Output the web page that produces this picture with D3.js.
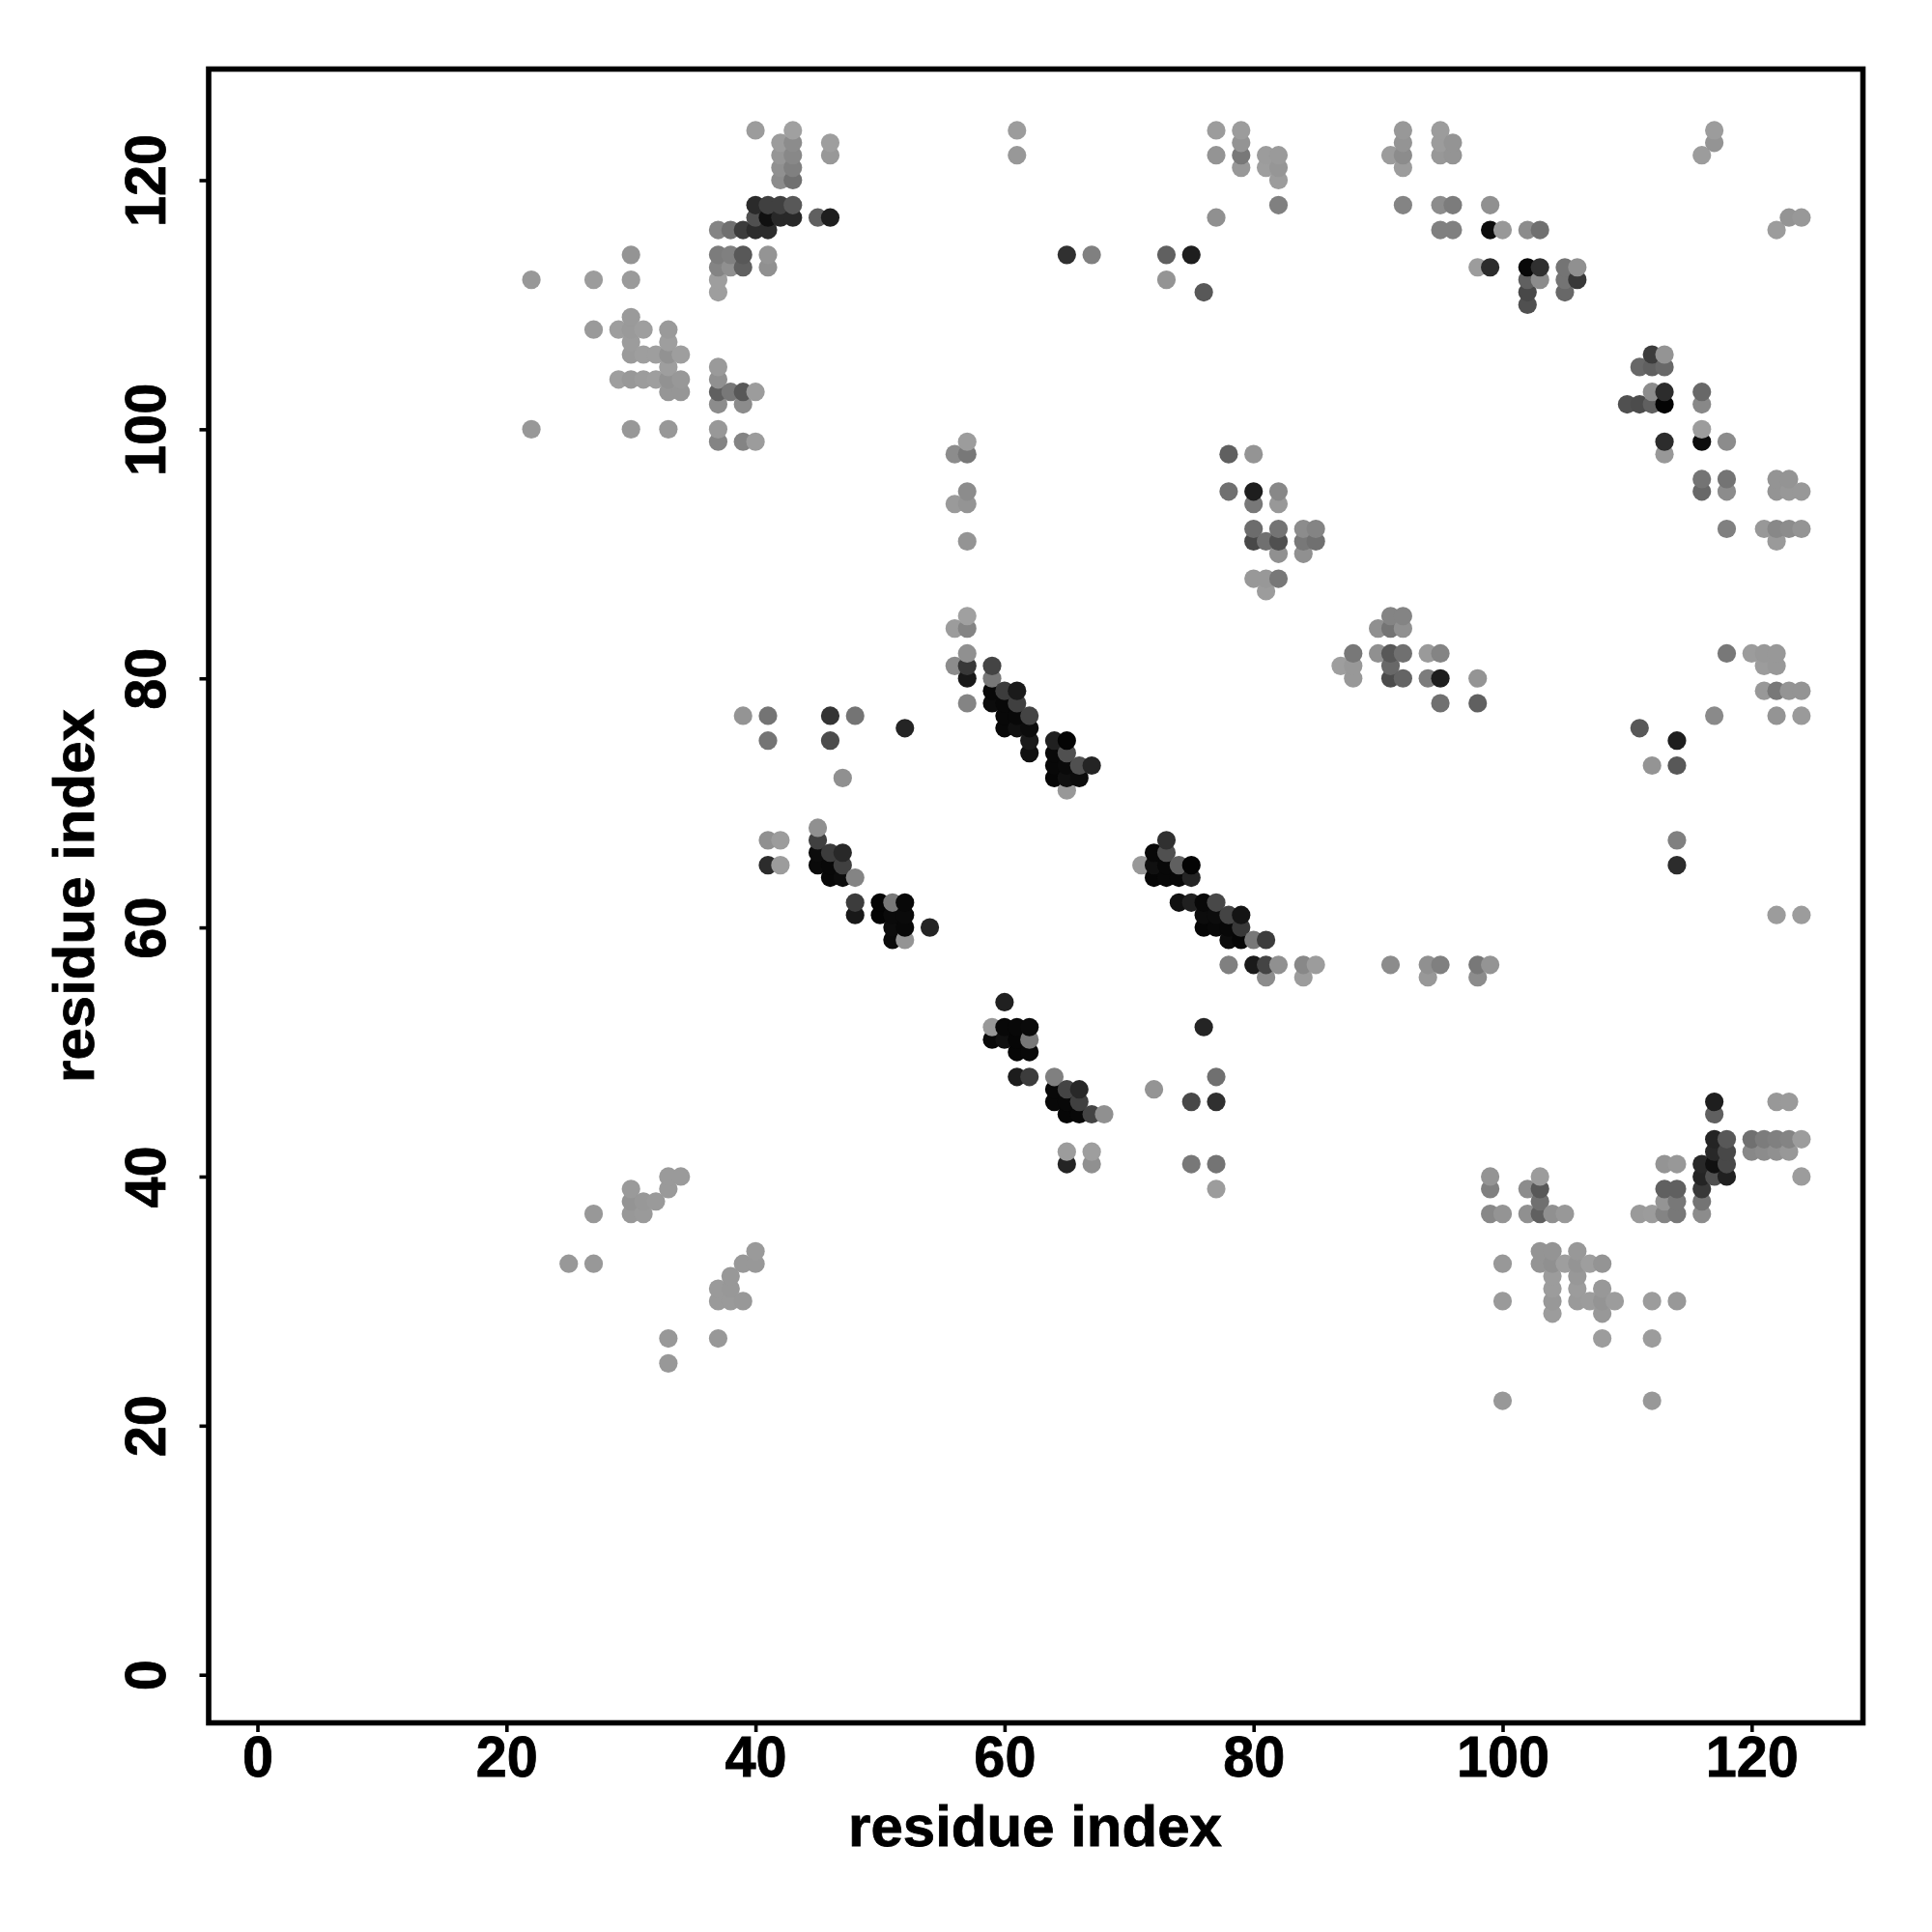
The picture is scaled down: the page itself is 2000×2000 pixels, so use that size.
<!DOCTYPE html>
<html>
<head>
<meta charset="utf-8">
<script src="https://cdn.jsdelivr.net/npm/d3@7"></script>
<style>html,body{margin:0;padding:0;background:#fff}svg{display:block}</style>
</head>
<body>
<div id="chart"></div>
<script>
// Each contact: [residue i, residue j, grey level 0-255]
const topLeftContacts = [
[40,124,0x9c],[43,124,0xa0],[42,123,0x9c],[43,123,0x8c],[46,123,0x9e],[42,122,0x96],[43,122,0x88],[46,122,0x98],
[42,121,0x90],[43,121,0x80],[42,120,0x8c],[43,120,0x70],[40,118,0x2a],[41,118,0x40],[42,118,0x40],[43,118,0x58],
[40,117,0x50],[41,117,0x10],[42,117,0x28],[43,117,0x28],[45,117,0x60],[46,117,0x1e],
[37,116,0x84],[38,116,0x70],[39,116,0x3c],[40,116,0x2c],[41,116,0x2c],
[30,114,0x94],[37,114,0x7c],[38,114,0x80],[39,114,0x58],[41,114,0x94],
[37,113,0x84],[38,113,0x90],[39,113,0x60],[41,113,0x90],
[22,112,0x98],[27,112,0x9c],[30,112,0x9a],[37,112,0x9e],[37,111,0x9e],[30,109,0x9a],
[27,108,0x9a],[29,108,0x9e],[30,108,0x9a],[31,108,0x9e],[33,108,0x9a],[30,107,0x9c],[33,107,0x9e],
[30,106,0x9a],[31,106,0x9e],[32,106,0x9e],[33,106,0x92],[34,106,0x9e],[33,105,0x9e],[37,105,0x9a],
[29,104,0x9e],[30,104,0x98],[31,104,0x9c],[32,104,0x9e],[33,104,0x92],[34,104,0x98],[37,104,0x90],
[33,103,0x96],[34,103,0x96],[37,103,0x60],[38,103,0x78],[39,103,0x58],[40,103,0x9c],
[37,102,0x8c],[39,102,0x8c],[22,100,0x98],[30,100,0x98],[33,100,0x98],[37,100,0x98],
[37,99,0x84],[39,99,0x84],[40,99,0x9c]
];
const topMiddleContacts = [
[61,124,0x9c],[61,122,0x98],[77,124,0x9c],[79,124,0x9c],[79,123,0x94],[79,122,0x78],[79,121,0x98],[77,122,0x94],
[81,122,0x9c],[82,122,0x9a],[81,121,0x9e],[82,121,0x96],[82,120,0x9c],[82,118,0x80],[77,117,0x90],
[65,114,0x30],[67,114,0x80],[73,114,0x60],[75,114,0x1e],[73,112,0x94],[76,111,0x58]
];
const topRightContacts = [
[92,124,0x98],[95,124,0x9c],[117,124,0x9c],[92,123,0x94],[95,123,0x9c],[96,123,0x94],[117,123,0x94],
[91,122,0x9c],[92,122,0x8c],[95,122,0x98],[96,122,0x94],[116,122,0x9c],[92,121,0x9c],
[92,118,0x84],[95,118,0x8c],[96,118,0x7c],[99,118,0x90],[123,117,0x94],[124,117,0x98],
[95,116,0x80],[96,116,0x80],[99,116,0x0c],[100,116,0x98],[102,116,0x8c],[103,116,0x70],[122,116,0x9c],
[98,113,0x9c],[99,113,0x2c],[102,113,0x08],[103,113,0x30],[105,113,0x74],[106,113,0x90],
[102,112,0x60],[103,112,0x8c],[105,112,0x74],[106,112,0x38],[102,111,0x48],[105,111,0x68],[102,110,0x50],
[112,106,0x3c],[113,106,0x94],[111,105,0x68],[112,105,0x60],[113,105,0x68],
[112,103,0x8c],[113,103,0x2c],[116,103,0x68],[110,102,0x50],[111,102,0x4c],[112,102,0x60],[113,102,0x04],[116,102,0x88],
[116,100,0x9c],[113,99,0x2c],[116,99,0x0c],[118,99,0x8c],[113,98,0x98],
[116,96,0x74],[118,96,0x74],[122,96,0x94],[123,96,0x94],[116,95,0x68],[118,95,0x8c],[122,95,0x94],[123,95,0x98],[124,95,0x98],
[118,92,0x80],[121,92,0x98],[122,92,0x88],[123,92,0x8c],[124,92,0x94],[122,91,0x9a]
];
const centreUpperContacts = [
[57,99,0x9c],[56,98,0x8c],[57,98,0x78],[57,95,0x8c],[56,94,0x9a],[57,94,0x94],[57,91,0x94],
[57,85,0xa0],[56,84,0x9c],[57,84,0x84],[57,82,0x90],[56,81,0x8c],[57,81,0x38],[57,80,0x18],[57,78,0x84],
[59,81,0x44],[59,80,0x78],[59,79,0x08],[59,78,0x0c],[60,79,0x3c],[61,79,0x1a],[60,78,0x08],[61,78,0x40],
[60,77,0x08],[61,77,0x08],[62,77,0x44],[60,76,0x08],[61,76,0x10],[62,76,0x0c],[62,75,0x1a],[62,74,0x10],
[64,75,0x20],[65,75,0x04],[64,74,0x08],[65,74,0x50],[64,73,0x08],[65,73,0x0a],[66,73,0x50],[67,73,0x24],
[64,72,0x06],[65,72,0x10],[66,72,0x0c],[65,71,0x98],
[78,98,0x60],[80,98,0x94],[78,95,0x70],[80,95,0x1e],[82,95,0x88],[80,94,0x78],[82,94,0x98],
[80,92,0x6c],[82,92,0x74],[84,92,0x8c],[85,92,0x84],[80,91,0x48],[81,91,0x70],[82,91,0x50],[84,91,0x78],[85,91,0x70],
[82,90,0x90],[84,90,0x90],[80,88,0x98],[81,88,0x98],[82,88,0x78],[81,87,0x9c],
[88,82,0x78],[87,81,0x9e],[88,81,0x98],[88,80,0x98]
];
const midRightContacts = [
[90,84,0x90],[91,84,0x74],[92,84,0x90],[91,85,0x84],[92,85,0x84],
[90,82,0x90],[91,82,0x58],[92,82,0x70],[94,82,0x9a],[95,82,0x84],[91,81,0x68],
[91,80,0x4c],[92,80,0x64],[94,80,0x7c],[95,80,0x1e],[98,80,0x94],[95,78,0x70],[98,78,0x60],
[118,82,0x78],[120,82,0x9c],[121,82,0x98],[122,82,0x98],[121,81,0x9c],[122,81,0x98],
[121,79,0x98],[122,79,0x78],[123,79,0x94],[124,79,0x94],[117,77,0x8a],[122,77,0x94],[124,77,0x9a],
[111,76,0x58],[114,75,0x1e],[112,73,0x94],[114,73,0x58],[114,67,0x80],[114,65,0x2c],[122,61,0x9c],[124,61,0x9c],
[91,57,0x8c],[94,57,0x90],[95,57,0x80],[98,57,0x78],[99,57,0x94],[94,56,0x98],[98,56,0x8c]
];
const midLeftContacts = [
[39,77,0x94],[41,77,0x74],[46,77,0x34],[48,77,0x74],[52,76,0x24],[41,75,0x74],[46,75,0x4c],[47,72,0x90],
[45,68,0x90],[42,67,0x9c],[41,67,0x90],[45,67,0x40],[45,66,0x0c],[46,66,0x3c],[47,66,0x28],
[41,65,0x2c],[42,65,0x9c],[45,65,0x0a],[46,65,0x08],[47,65,0x40],[46,64,0x08],[47,64,0x0c],[48,64,0x84],
[48,62,0x3c],[50,62,0x04],[51,62,0x78],[52,62,0x08],[48,61,0x18],[50,61,0x04],[51,61,0x0a],[52,61,0x0a],
[51,60,0x0c],[52,60,0x08],[54,60,0x24],[51,59,0x0a],[52,59,0x94]
];
const centreDiagonalContacts = [
[73,67,0x30],[72,66,0x08],[73,66,0x50],[71,65,0x98],[72,65,0x10],[73,65,0x08],[74,65,0x60],[75,65,0x04],
[72,64,0x06],[73,64,0x08],[74,64,0x08],[75,64,0x24],[74,62,0x10],[75,62,0x20],[76,62,0x08],[77,62,0x48],
[76,61,0x0c],[77,61,0x0c],[78,61,0x44],[79,61,0x14],[76,60,0x06],[77,60,0x08],[78,60,0x08],[79,60,0x38],
[78,59,0x0c],[79,59,0x06],[80,59,0x78],[81,59,0x3c],[78,57,0x80],[80,57,0x1a],[81,57,0x44],[82,57,0x90],
[84,57,0x88],[85,57,0x9c],[81,56,0x8c],[84,56,0x9c]
];
const centreLowerContacts = [
[60,54,0x20],[59,52,0x98],[60,52,0x08],[61,52,0x08],[62,52,0x0a],[76,52,0x24],
[59,51,0x08],[60,51,0x10],[61,51,0x06],[62,51,0x78],[61,50,0x06],[62,50,0x08],
[61,48,0x1c],[62,48,0x3c],[64,48,0x80],[77,48,0x70],[64,47,0x08],[65,47,0x44],[66,47,0x28],[72,47,0x94],
[64,46,0x08],[65,46,0x08],[66,46,0x40],[75,46,0x48],[77,46,0x30],[65,45,0x06],[66,45,0x08],[67,45,0x44],[68,45,0x90],
[65,42,0x9c],[67,42,0x9e],[65,41,0x24],[67,41,0x90],[75,41,0x78],[77,41,0x74],[77,39,0x9c]
];
const bottomLeftContacts = [
[25,33,0x98],[27,33,0x98],[27,37,0x98],[30,39,0x9a],[30,38,0x94],[31,38,0x98],[30,37,0x98],[31,37,0x9a],[32,38,0x9a],
[33,39,0x9a],[33,40,0x9a],[34,40,0x9a],[33,27,0x98],[33,25,0x98],[37,27,0x98],
[37,31,0x9a],[38,31,0x98],[38,32,0x98],[37,30,0x9a],[38,30,0x9a],[39,30,0x98],[39,33,0x98],[40,33,0x98],[40,34,0x9a]
];
const bottomRightContacts = [
[117,46,0x1e],[122,46,0x98],[123,46,0x9a],[117,45,0x60],
[117,43,0x24],[118,43,0x58],[120,43,0x70],[121,43,0x7c],[122,43,0x80],[123,43,0x84],[124,43,0x9c],
[117,42,0x28],[118,42,0x48],[120,42,0x88],[121,42,0x8c],[122,42,0x90],[123,42,0x98],
[113,41,0x94],[114,41,0x98],[116,41,0x28],[117,41,0x10],[118,41,0x48],
[99,40,0x94],[103,40,0x9c],[116,40,0x24],[117,40,0x50],[118,40,0x20],[124,40,0x9c],
[99,39,0x80],[102,39,0x8c],[103,39,0x58],[113,39,0x60],[114,39,0x60],[116,39,0x38],
[103,38,0x70],[113,38,0x94],[114,38,0x78],[116,38,0x74],
[99,37,0x88],[100,37,0x94],[102,37,0x90],[103,37,0x60],[104,37,0x90],[105,37,0x98],
[111,37,0x9a],[112,37,0x9c],[113,37,0x84],[114,37,0x78],[116,37,0x8c],
[103,34,0x94],[104,34,0x94],[106,34,0x98],
[100,33,0x98],[103,33,0x94],[104,33,0x90],[105,33,0x9e],[106,33,0x94],[107,33,0x9e],[108,33,0x94],
[104,32,0x9c],[106,32,0x98],[104,31,0x9c],[106,31,0x9c],[108,31,0x98],
[100,30,0x9a],[104,30,0x98],[106,30,0x9a],[107,30,0x9c],[108,30,0x94],[109,30,0x9c],[112,30,0x9c],[114,30,0x98],
[104,29,0x9c],[108,29,0x98],[108,27,0x9c],[112,27,0x9c],[100,22,0x98],[112,22,0x98]
];
const tickValues = [0,20,40,60,80,100,120];
const axisTitle = "residue index";

// Points are drawn looping over i, then j, so later ones sit on top.
const contacts = [].concat(topLeftContacts, topMiddleContacts, topRightContacts, centreUpperContacts,
  midRightContacts, midLeftContacts, centreDiagonalContacts, centreLowerContacts, bottomLeftContacts, bottomRightContacts)
  .sort((a, b) => a[0] - b[0] || a[1] - b[1]);

const frame = {left: 216, right: 1928.5, top: 71.5, bottom: 1783.5};
const x = d3.scaleLinear().domain([0, 120]).range([266.5, 1813.3]);
const y = d3.scaleLinear().domain([0, 120]).range([1733.7, 186.5]);

const svg = d3.select("#chart").append("svg").attr("width", 2000).attr("height", 2000);
svg.append("rect").attr("width", 2000).attr("height", 2000).attr("fill", "#fff");

svg.append("g").selectAll("circle").data(contacts).join("circle")
  .attr("cx", d => x(d[0])).attr("cy", d => y(d[1])).attr("r", 9.6)
  .attr("fill", d => d3.rgb(d[2], d[2], d[2]).formatHex());

const font = '"Liberation Sans", Arial, sans-serif';
const gx = svg.append("g").attr("transform", `translate(0,${frame.bottom})`)
  .call(d3.axisBottom(x).tickValues(tickValues).tickSize(9.5).tickPadding(0).tickFormat(d3.format("d")));
const gy = svg.append("g").attr("transform", `translate(${frame.left},0)`)
  .call(d3.axisLeft(y).tickValues(tickValues).tickSize(9.5).tickPadding(0).tickFormat(d3.format("d")));
[gx, gy].forEach(g => {
  g.select(".domain").remove();
  g.selectAll(".tick line").attr("stroke", "#000").attr("stroke-width", 3.6);
  g.selectAll(".tick text").attr("fill", "#000").attr("stroke", "#000").attr("stroke-width", 0.8)
    .attr("font-family", font).attr("font-weight", "bold").attr("font-size", 60);
});
gx.selectAll(".tick text").attr("y", 0).attr("dy", 0)
  .attr("transform", "translate(0,55.5) scale(0.96,1)").attr("text-anchor", "middle");
gy.selectAll(".tick text").attr("x", 0).attr("dy", 0)
  .attr("transform", "translate(-45,0) rotate(-90) scale(0.96,1)").attr("text-anchor", "middle");

svg.append("rect")
  .attr("x", frame.left).attr("y", frame.top)
  .attr("width", frame.right - frame.left).attr("height", frame.bottom - frame.top)
  .attr("fill", "none").attr("stroke", "#000").attr("stroke-width", 5.6);

svg.append("text").attr("x", 1071.5).attr("y", 1911).attr("text-anchor", "middle")
  .attr("font-family", font).attr("font-weight", "bold").attr("font-size", 60).attr("fill", "#000")
  .attr("stroke", "#000").attr("stroke-width", 0.8).text(axisTitle);
svg.append("text").attr("transform", "translate(97,927.5) rotate(-90)").attr("text-anchor", "middle")
  .attr("font-family", font).attr("font-weight", "bold").attr("font-size", 60).attr("fill", "#000")
  .attr("stroke", "#000").attr("stroke-width", 0.8).text(axisTitle);
</script>
</body>
</html>
